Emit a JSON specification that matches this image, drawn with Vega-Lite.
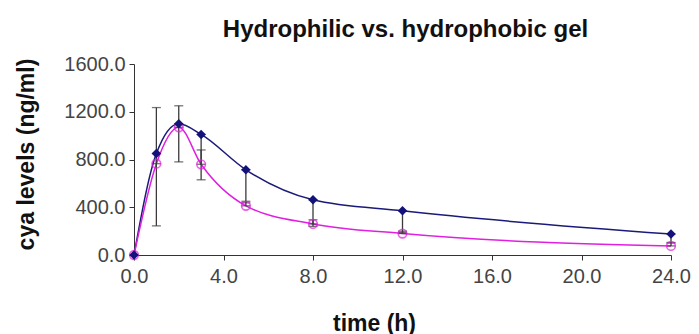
{
  "$schema": "https://vega.github.io/schema/vega-lite/v6.json",
  "width": 537,
  "height": 191,
  "autosize": {"type": "none"},
  "padding": {"left": 134, "top": 64, "right": 28, "bottom": 79},
  "background": "white",
  "title": {
    "text": "Hydrophilic vs. hydrophobic gel",
    "font": "Liberation Sans",
    "fontSize": 24,
    "fontWeight": "bold",
    "color": "#111",
    "anchor": "middle",
    "dx": 3,
    "offset": 12
  },
  "config": {
    "view": {"stroke": null},
    "axis": {
      "grid": false,
      "domainColor": "#333",
      "tickColor": "#333",
      "tickSize": 5,
      "labelFont": "Liberation Sans",
      "labelFontSize": 20,
      "labelColor": "#444",
      "labelFlush": false,
      "labelOverlap": false,
      "titleFont": "Liberation Sans",
      "titleFontSize": 23,
      "titleFontWeight": "bold",
      "titleColor": "#111"
    }
  },
  "datasets": {
    "series": [
      {"gel": "A", "t": 0, "v": 0},
      {"gel": "A", "t": 1, "v": 850},
      {"gel": "A", "t": 2, "v": 1100},
      {"gel": "A", "t": 3, "v": 1010},
      {"gel": "A", "t": 5, "v": 714},
      {"gel": "A", "t": 8, "v": 462},
      {"gel": "A", "t": 12, "v": 370},
      {"gel": "A", "t": 24, "v": 176},
      {"gel": "B", "t": 0, "v": 0},
      {"gel": "B", "t": 1, "v": 765},
      {"gel": "B", "t": 2, "v": 1070},
      {"gel": "B", "t": 3, "v": 760},
      {"gel": "B", "t": 5, "v": 412},
      {"gel": "B", "t": 8, "v": 260},
      {"gel": "B", "t": 12, "v": 180},
      {"gel": "B", "t": 24, "v": 76}
    ],
    "errors": [
      {"gel": "A", "t": 1, "lo": 244, "hi": 850},
      {"gel": "A", "t": 2, "lo": 780, "hi": 1100},
      {"gel": "A", "t": 3, "lo": 630, "hi": 1010},
      {"gel": "A", "t": 5, "lo": 437, "hi": 714},
      {"gel": "A", "t": 8, "lo": 240, "hi": 462},
      {"gel": "A", "t": 12, "lo": 190, "hi": 370},
      {"gel": "A", "t": 24, "lo": 100, "hi": 176},
      {"gel": "B", "t": 1, "lo": 765, "hi": 1235},
      {"gel": "B", "t": 2, "lo": 1070, "hi": 1250},
      {"gel": "B", "t": 3, "lo": 760, "hi": 880},
      {"gel": "B", "t": 5, "lo": 412, "hi": 450},
      {"gel": "B", "t": 8, "lo": 260, "hi": 295},
      {"gel": "B", "t": 12, "lo": 180, "hi": 200},
      {"gel": "B", "t": 24, "lo": 76, "hi": 105}
    ]
  },
  "layer": [
    {
      "data": {"name": "series"},
      "mark": {"type": "line", "interpolate": "monotone", "strokeWidth": 1.5},
      "encoding": {
        "x": {
          "field": "t", "type": "quantitative", "title": "time (h)",
          "scale": {"domain": [0, 24], "nice": false},
          "axis": {"values": [0, 4, 8, 12, 16, 20, 24], "format": ".1f", "labelPadding": 6, "titleX": 240, "titleY": 75, "titleAnchor": "middle", "titleAlign": "center", "titleBaseline": "alphabetic"}
        },
        "y": {
          "field": "v", "type": "quantitative", "title": "cya levels (ng/ml)",
          "scale": {"domain": [0, 1600], "nice": false},
          "axis": {"values": [0, 400, 800, 1200, 1600], "format": ".1f", "labelPadding": 4, "titleX": -108, "titleY": 90, "titleAngle": -90, "titleAlign": "center", "titleBaseline": "middle"}
        },
        "color": {"field": "gel", "type": "nominal", "scale": {"domain": ["A", "B"], "range": ["#1a1a7a", "#e020e0"]}, "legend": null}
      }
    },
    {
      "data": {"name": "errors"},
      "mark": {"type": "errorbar", "ticks": {"size": 9}, "color": "#3a3a3a", "thickness": 1.3},
      "encoding": {
        "x": {"field": "t", "type": "quantitative", "title": "time (h)"},
        "y": {"field": "lo", "type": "quantitative", "title": "cya levels (ng/ml)"},
        "y2": {"field": "hi"}
      }
    },
    {
      "data": {"name": "series"},
      "transform": [{"filter": "datum.gel == 'B'"}],
      "mark": {"type": "point", "shape": "circle", "filled": false, "size": 75, "strokeWidth": 1.6, "color": "#e020e0"},
      "encoding": {
        "x": {"field": "t", "type": "quantitative", "title": "time (h)"},
        "y": {"field": "v", "type": "quantitative", "title": "cya levels (ng/ml)"}
      }
    },
    {
      "data": {"name": "series"},
      "transform": [{"filter": "datum.gel == 'A'"}],
      "mark": {"type": "point", "shape": "diamond", "filled": true, "size": 90, "color": "#12127a", "opacity": 1},
      "encoding": {
        "x": {"field": "t", "type": "quantitative", "title": "time (h)"},
        "y": {"field": "v", "type": "quantitative", "title": "cya levels (ng/ml)"}
      }
    }
  ]
}
